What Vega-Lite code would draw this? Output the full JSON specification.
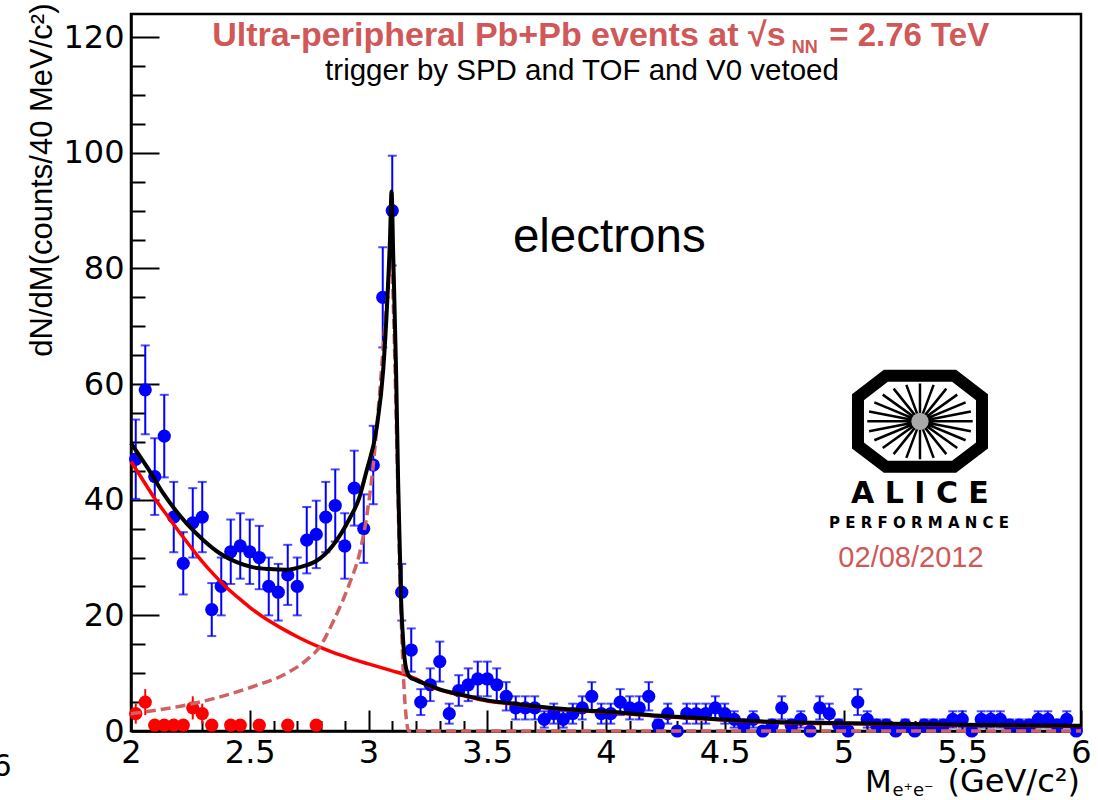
{
  "$schema": "https://vega.github.io/schema/vega-lite/v6.json",
  "width": 950,
  "height": 717,
  "autosize": {"type": "none"},
  "padding": {"left": 131, "top": 14, "right": 17, "bottom": 69},
  "background": "white",
  "config": {
    "view": {"stroke": "black", "strokeWidth": 2.5},
    "axis": {"grid": false, "labelFont": "DejaVu Sans", "labelFontSize": 32, "labelColor": "black", "tickColor": "black", "tickWidth": 2, "domainColor": "black", "domainWidth": 2.5, "labelOverlap": false, "labelFlush": false, "labelBound": false},
    "axisX": {"tickCount": 40},
    "axisY": {"tickCount": 25}
  },
  "datasets": {
    "blue": [
      {"m":2.02,"n":47,"e":6.86},{"m":2.06,"n":59,"e":7.68},{"m":2.10,"n":44,"e":6.63},{"m":2.14,"n":51,"e":7.14},{"m":2.18,"n":37,"e":6.08},
      {"m":2.22,"n":29,"e":5.39},{"m":2.26,"n":36,"e":6.00},{"m":2.30,"n":37,"e":6.08},{"m":2.34,"n":21,"e":4.58},{"m":2.38,"n":25,"e":5.00},
      {"m":2.42,"n":31,"e":5.57},{"m":2.46,"n":32,"e":5.66},{"m":2.50,"n":31,"e":5.57},{"m":2.54,"n":30,"e":5.48},{"m":2.58,"n":25,"e":5.00},
      {"m":2.62,"n":24,"e":4.90},{"m":2.66,"n":27,"e":5.20},{"m":2.70,"n":25,"e":5.00},{"m":2.74,"n":33,"e":5.74},{"m":2.78,"n":34,"e":5.83},
      {"m":2.82,"n":37,"e":6.08},{"m":2.86,"n":39,"e":6.24},{"m":2.90,"n":32,"e":5.66},{"m":2.94,"n":42,"e":6.48},{"m":2.98,"n":35,"e":5.92},
      {"m":3.02,"n":46,"e":6.78},{"m":3.06,"n":75,"e":8.66},{"m":3.10,"n":90,"e":9.49},{"m":3.14,"n":24,"e":4.90},{"m":3.18,"n":14,"e":3.74},
      {"m":3.22,"n":5,"e":2.24},{"m":3.26,"n":8,"e":2.83},{"m":3.30,"n":12,"e":3.46},{"m":3.34,"n":3,"e":1.73},{"m":3.38,"n":7,"e":2.65},
      {"m":3.42,"n":8,"e":2.83},{"m":3.46,"n":9,"e":3.00},{"m":3.50,"n":9,"e":3.00},{"m":3.54,"n":8,"e":2.83},{"m":3.58,"n":6,"e":2.45},
      {"m":3.62,"n":4,"e":2},{"m":3.66,"n":4,"e":2},{"m":3.70,"n":4,"e":2},{"m":3.74,"n":2,"e":1.41},{"m":3.78,"n":3,"e":1.73},
      {"m":3.82,"n":2,"e":1.41},{"m":3.86,"n":3,"e":1.73},{"m":3.90,"n":4,"e":2},{"m":3.94,"n":6,"e":2.45},{"m":3.98,"n":3,"e":1.73},
      {"m":4.02,"n":3,"e":1.73},{"m":4.06,"n":5,"e":2.24},{"m":4.10,"n":4,"e":2},{"m":4.14,"n":4,"e":2},{"m":4.18,"n":6,"e":2.45},
      {"m":4.22,"n":1,"e":1},{"m":4.26,"n":3,"e":1.73},{"m":4.30,"n":0,"e":0},{"m":4.34,"n":3,"e":1.73},{"m":4.38,"n":3,"e":1.73},
      {"m":4.42,"n":3,"e":1.73},{"m":4.46,"n":4,"e":2},{"m":4.50,"n":3,"e":1.73},{"m":4.54,"n":2,"e":1.41},{"m":4.58,"n":1,"e":1},
      {"m":4.62,"n":2,"e":1.41},{"m":4.66,"n":0,"e":0},{"m":4.70,"n":1,"e":1},{"m":4.74,"n":4,"e":2},{"m":4.78,"n":1,"e":1},
      {"m":4.82,"n":2,"e":1.41},{"m":4.86,"n":0,"e":0},{"m":4.90,"n":4,"e":2},{"m":4.94,"n":3,"e":1.73},{"m":4.98,"n":1,"e":1},
      {"m":5.02,"n":0,"e":0},{"m":5.06,"n":5,"e":2.24},{"m":5.10,"n":2,"e":1.41},{"m":5.14,"n":1,"e":1},{"m":5.18,"n":1,"e":1},
      {"m":5.22,"n":0,"e":0},{"m":5.26,"n":1,"e":1},{"m":5.30,"n":0,"e":0},{"m":5.34,"n":1,"e":1},{"m":5.38,"n":1,"e":1},
      {"m":5.42,"n":1,"e":1},{"m":5.46,"n":2,"e":1.41},{"m":5.50,"n":2,"e":1.41},{"m":5.54,"n":0,"e":0},{"m":5.58,"n":2,"e":1.41},
      {"m":5.62,"n":2,"e":1.41},{"m":5.66,"n":2,"e":1.41},{"m":5.70,"n":1,"e":1},{"m":5.74,"n":1,"e":1},{"m":5.78,"n":1,"e":1},
      {"m":5.82,"n":2,"e":1.41},{"m":5.86,"n":2,"e":1.41},{"m":5.90,"n":1,"e":1},{"m":5.94,"n":2,"e":1.41},{"m":5.98,"n":0,"e":0}
    ],
    "red": [
      {"m":2.02,"n":3,"e":1.73},{"m":2.06,"n":5,"e":2.24},{"m":2.10,"n":1,"e":1},{"m":2.14,"n":1,"e":1},{"m":2.18,"n":1,"e":1},
      {"m":2.22,"n":1,"e":1},{"m":2.26,"n":4,"e":2},{"m":2.30,"n":3,"e":1.73},{"m":2.34,"n":1,"e":1},{"m":2.42,"n":1,"e":1},
      {"m":2.46,"n":1,"e":1},{"m":2.54,"n":1,"e":1},{"m":2.66,"n":1,"e":1},{"m":2.78,"n":1,"e":1}
    ],
    "fit": [
      {"c":"total","m":2.00,"n":49.8},{"c":"total","m":2.07,"n":45.5},{"c":"total","m":2.136,"n":41.1},{"c":"total","m":2.234,"n":35.9},
      {"c":"total","m":2.305,"n":33.0},{"c":"total","m":2.375,"n":30.7},{"c":"total","m":2.445,"n":29.2},{"c":"total","m":2.515,"n":28.3},
      {"c":"total","m":2.585,"n":28.0},{"c":"total","m":2.656,"n":27.9},{"c":"total","m":2.726,"n":28.5},{"c":"total","m":2.78,"n":29.4},
      {"c":"total","m":2.85,"n":32.1},{"c":"total","m":2.92,"n":36.7},{"c":"total","m":2.96,"n":40.2},{"c":"total","m":2.99,"n":44.7},
      {"c":"total","m":3.035,"n":52.6},{"c":"total","m":3.062,"n":62.5},{"c":"total","m":3.079,"n":74.4},{"c":"total","m":3.091,"n":85.7},
      {"c":"total","m":3.097,"n":93.3},{"c":"total","m":3.104,"n":82.4},{"c":"total","m":3.116,"n":62.5},{"c":"total","m":3.125,"n":42.7},
      {"c":"total","m":3.137,"n":22.8},{"c":"total","m":3.147,"n":14.9},{"c":"total","m":3.158,"n":10.9},{"c":"total","m":3.175,"n":9.3},
      {"c":"total","m":3.2,"n":8.8},{"c":"total","m":3.25,"n":8.0},{"c":"total","m":3.3,"n":7.2},{"c":"total","m":3.4,"n":6.2},
      {"c":"total","m":3.5,"n":5.3},{"c":"total","m":3.6,"n":4.8},{"c":"total","m":3.72,"n":4.2},{"c":"total","m":3.93,"n":3.5},
      {"c":"total","m":4.06,"n":3.2},{"c":"total","m":4.14,"n":2.9},{"c":"total","m":4.41,"n":2.2},{"c":"total","m":4.76,"n":1.5},
      {"c":"total","m":5.03,"n":1.35},{"c":"total","m":5.5,"n":1.1},{"c":"total","m":6.0,"n":0.9},
      {"c":"cont","m":2.00,"n":46.6},{"c":"cont","m":2.05,"n":43.4},{"c":"cont","m":2.10,"n":40.2},{"c":"cont","m":2.15,"n":37.4},
      {"c":"cont","m":2.20,"n":34.6},{"c":"cont","m":2.25,"n":31.9},{"c":"cont","m":2.30,"n":29.3},{"c":"cont","m":2.35,"n":27.0},
      {"c":"cont","m":2.40,"n":24.9},{"c":"cont","m":2.45,"n":23.1},{"c":"cont","m":2.50,"n":21.4},{"c":"cont","m":2.55,"n":19.9},
      {"c":"cont","m":2.60,"n":18.6},{"c":"cont","m":2.65,"n":17.4},{"c":"cont","m":2.70,"n":16.3},{"c":"cont","m":2.75,"n":15.3},
      {"c":"cont","m":2.80,"n":14.4},{"c":"cont","m":2.85,"n":13.6},{"c":"cont","m":2.90,"n":12.9},{"c":"cont","m":2.95,"n":12.2},
      {"c":"cont","m":3.00,"n":11.6},{"c":"cont","m":3.05,"n":11.0},{"c":"cont","m":3.10,"n":10.4},{"c":"cont","m":3.15,"n":9.8},
      {"c":"cont","m":3.2,"n":9.0},{"c":"cont","m":3.25,"n":7.9},{"c":"cont","m":3.3,"n":7.1},{"c":"cont","m":3.4,"n":6.1},
      {"c":"cont","m":3.5,"n":5.2},{"c":"cont","m":3.6,"n":4.7},{"c":"cont","m":3.72,"n":4.1},{"c":"cont","m":3.93,"n":3.4},
      {"c":"cont","m":4.06,"n":3.1},{"c":"cont","m":4.14,"n":2.8},{"c":"cont","m":4.41,"n":2.1},{"c":"cont","m":4.76,"n":1.4},
      {"c":"cont","m":5.03,"n":1.25},{"c":"cont","m":5.5,"n":1.0},{"c":"cont","m":6.0,"n":0.8},
      {"c":"jpsi","m":2.00,"n":3.0},{"c":"jpsi","m":2.234,"n":4.5},{"c":"jpsi","m":2.375,"n":5.9},{"c":"jpsi","m":2.515,"n":7.7},
      {"c":"jpsi","m":2.656,"n":10.0},{"c":"jpsi","m":2.74,"n":12.3},{"c":"jpsi","m":2.796,"n":14.6},{"c":"jpsi","m":2.852,"n":19.0},
      {"c":"jpsi","m":2.92,"n":25.5},{"c":"jpsi","m":2.964,"n":31},{"c":"jpsi","m":2.992,"n":37},{"c":"jpsi","m":3.02,"n":46},
      {"c":"jpsi","m":3.048,"n":59},{"c":"jpsi","m":3.069,"n":70},{"c":"jpsi","m":3.088,"n":79},{"c":"jpsi","m":3.097,"n":81.4},
      {"c":"jpsi","m":3.105,"n":73},{"c":"jpsi","m":3.119,"n":50},{"c":"jpsi","m":3.133,"n":26},{"c":"jpsi","m":3.147,"n":9.6},
      {"c":"jpsi","m":3.161,"n":1.5},{"c":"jpsi","m":3.168,"n":0},{"c":"jpsi","m":6.0,"n":0}
    ],
    "one": [{}]
  },
  "layer": [
    {
      "encoding": {
        "x": {"field": "m", "type": "quantitative", "scale": {"domain": [2, 6], "nice": false, "zero": false},
          "axis": {"title": null, "tickCount": 40,
            "labelExpr": "abs(datum.value*2-round(datum.value*2))<0.001 ? format(datum.value,'~g') : ''",
            "tickSize": {"condition": {"test": "abs(datum.value*2-round(datum.value*2))<0.001", "value": -21}, "value": -10.5},
            "labelPadding": 27}},
        "y": {"field": "n", "type": "quantitative", "scale": {"domain": [0, 124], "nice": false, "zero": false},
          "axis": {"title": "dN/dM(counts/40 MeV/c²)", "tickCount": 25,
            "labelExpr": "abs(datum.value/20-round(datum.value/20))<0.001 ? format(datum.value,'d') : ''",
            "tickSize": {"condition": {"test": "abs(datum.value/20-round(datum.value/20))<0.001", "value": -28}, "value": -14},
            "labelPadding": 35,
            "titleFont": "Liberation Sans", "titleFontSize": 31, "titleFontWeight": "normal", "titleColor": "black",
            "titleAnchor": "end", "titleAlign": "right", "titleAngle": -90, "titleBaseline": "alphabetic", "titleX": -80, "titleY": -11}}
      },
      "layer": [
        {
          "data": {"name": "red"},
          "mark": {"type": "errorbar", "color": "#ff0000", "thickness": 2, "ticks": false},
          "encoding": {"yError": {"field": "e"}}
        },
        {
          "data": {"name": "red"},
          "mark": {"type": "circle", "color": "#ff0000", "size": 175, "opacity": 1}
        },
        {
          "data": {"name": "blue"},
          "mark": {"type": "errorbar", "color": "#0000ff", "thickness": 2, "ticks": {"size": 9, "thickness": 2}},
          "encoding": {"yError": {"field": "e"}}
        },
        {
          "data": {"name": "blue"},
          "mark": {"type": "circle", "color": "#0000ff", "size": 175, "opacity": 1}
        },
        {
          "data": {"name": "fit"},
          "transform": [{"filter": "datum.c === 'cont'"}],
          "mark": {"type": "line", "color": "#ff0000", "strokeWidth": 3.5, "interpolate": "monotone"}
        },
        {
          "data": {"name": "fit"},
          "transform": [{"filter": "datum.c === 'jpsi'"}],
          "mark": {"type": "line", "color": "#d06262", "strokeWidth": 3.5, "strokeDash": [10, 5], "interpolate": "monotone"}
        },
        {
          "data": {"name": "fit"},
          "transform": [{"filter": "datum.c === 'total'"}],
          "mark": {"type": "line", "color": "#000000", "strokeWidth": 4, "interpolate": "monotone"}
        }
      ]
    },
    {
      "data": {"name": "one"},
      "mark": {"type": "text", "text": "Ultra-peripheral Pb+Pb events at √s", "font": "Liberation Sans", "fontSize": 34, "fontWeight": "bold", "color": "#d05858", "align": "right", "baseline": "alphabetic"},
      "encoding": {"x": {"datum": 4.756}, "y": {"datum": 118.5}}
    },
    {
      "data": {"name": "one"},
      "mark": {"type": "text", "text": "NN", "font": "Liberation Sans", "fontSize": 18, "fontWeight": "bold", "color": "#d05858", "align": "left", "baseline": "alphabetic"},
      "encoding": {"x": {"datum": 4.782}, "y": {"datum": 117.3}}
    },
    {
      "data": {"name": "one"},
      "mark": {"type": "text", "text": "= 2.76 TeV", "font": "Liberation Sans", "fontSize": 33, "fontWeight": "bold", "color": "#d05858", "align": "left", "baseline": "alphabetic"},
      "encoding": {"x": {"datum": 4.94}, "y": {"datum": 118.5}}
    },
    {
      "data": {"name": "one"},
      "mark": {"type": "text", "text": "trigger by SPD and TOF and V0 vetoed", "font": "Liberation Sans", "fontSize": 29.5, "color": "black", "align": "center", "baseline": "alphabetic"},
      "encoding": {"x": {"datum": 3.899}, "y": {"datum": 112.5}}
    },
    {
      "data": {"name": "one"},
      "mark": {"type": "text", "text": "electrons", "font": "Liberation Sans", "fontSize": 47.5, "color": "black", "align": "left", "baseline": "alphabetic"},
      "encoding": {"x": {"datum": 3.608}, "y": {"datum": 82.9}}
    },
    {
      "data": {"name": "one"},
      "mark": {"type": "point", "shape": "M-0.55,-0.734L0.55,-0.734L1,-0.39L1,0.39L0.55,0.734L-0.55,0.734L-1,0.39L-1,-0.39Z", "size": 15376, "filled": false, "stroke": "black", "strokeWidth": 12, "opacity": 1, "strokeJoin": "miter"},
      "encoding": {"x": {"datum": 5.322}, "y": {"datum": 53.55}}
    },
    {
      "data": {"name": "one"},
      "mark": {"type": "point", "shape": "M0.85,0L-0.85,0M0.821,0.158L-0.821,-0.158M0.736,0.305L-0.736,-0.305M0.601,0.431L-0.601,-0.431M0.425,0.528L-0.425,-0.528M0.22,0.589L-0.22,-0.589M0,0.61L0,-0.61M-0.22,0.589L0.22,-0.589M-0.425,0.528L0.425,-0.528M-0.601,0.431L0.601,-0.431M-0.736,0.305L0.736,-0.305M-0.821,0.158L0.821,-0.158", "size": 15376, "filled": false, "stroke": "black", "strokeWidth": 2.5, "opacity": 1},
      "encoding": {"x": {"datum": 5.322}, "y": {"datum": 53.55}}
    },
    {
      "data": {"name": "one"},
      "mark": {"type": "circle", "size": 300, "color": "#a8a8a8", "opacity": 1},
      "encoding": {"x": {"datum": 5.322}, "y": {"datum": 53.55}}
    },
    {
      "data": {"name": "one"},
      "mark": {"type": "text", "text": "A L I C E", "font": "DejaVu Sans", "fontSize": 30, "fontWeight": "bold", "color": "black", "align": "center", "baseline": "alphabetic"},
      "encoding": {"x": {"datum": 5.322}, "y": {"datum": 39.45}}
    },
    {
      "data": {"name": "one"},
      "mark": {"type": "text", "text": "P E R F O R M A N C E", "font": "DejaVu Sans", "fontSize": 15, "fontWeight": "bold", "color": "black", "align": "center", "baseline": "alphabetic"},
      "encoding": {"x": {"datum": 5.318}, "y": {"datum": 35.1}}
    },
    {
      "data": {"name": "one"},
      "mark": {"type": "text", "text": "02/08/2012", "font": "Liberation Sans", "fontSize": 29, "color": "#d05858", "align": "center", "baseline": "alphabetic"},
      "encoding": {"x": {"datum": 5.284}, "y": {"datum": 28.4}}
    },
    {
      "data": {"name": "one"},
      "mark": {"type": "text", "text": "M", "font": "DejaVu Sans", "fontSize": 31, "color": "black", "align": "left", "baseline": "alphabetic"},
      "encoding": {"x": {"datum": 5.0905}, "y": {"datum": -10.5}}
    },
    {
      "data": {"name": "one"},
      "mark": {"type": "text", "text": "e⁺e⁻", "font": "DejaVu Sans", "fontSize": 18, "color": "black", "align": "left", "baseline": "alphabetic"},
      "encoding": {"x": {"datum": 5.206}, "y": {"datum": -11.3}}
    },
    {
      "data": {"name": "one"},
      "mark": {"type": "text", "text": "(GeV/c²)", "font": "DejaVu Sans", "fontSize": 32, "color": "black", "align": "right", "baseline": "alphabetic"},
      "encoding": {"x": {"datum": 5.996}, "y": {"datum": -10.5}}
    },
    {
      "data": {"name": "one"},
      "mark": {"type": "text", "text": "6", "font": "DejaVu Sans", "fontSize": 30, "color": "black", "align": "center", "baseline": "alphabetic"},
      "encoding": {"x": {"datum": 1.457}, "y": {"datum": -7.8}}
    }
  ]
}
